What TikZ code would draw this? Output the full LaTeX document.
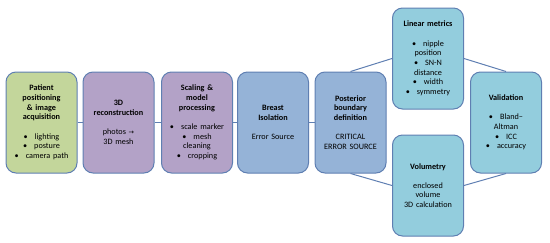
\documentclass[tikz,border=0pt]{standalone}
\usepackage{fontspec}
\setmainfont{Carlito}
\newfontfamily\arrowfont{DejaVu Sans}
\definecolor{boxline}{HTML}{5F7FB2}
\definecolor{cgreen}{HTML}{C3D69B}
\definecolor{cpurple}{HTML}{B3A2C7}
\definecolor{cblue}{HTML}{95B3D7}
\definecolor{ccyan}{HTML}{93CDDD}
\begin{document}
\begin{tikzpicture}[x=1pt,y=-1pt]
\tikzset{
  box/.style={draw=boxline, line width=1pt, rounded corners=10pt,
    minimum width=71pt, minimum height=101pt, text width=68pt,
    align=center, inner sep=1pt, font=\fontsize{8.2}{9.7}\selectfont},
  conn/.style={draw=boxline, line width=1pt}
}
\newcommand{\bul}{\textbullet\hspace{7pt}}
\useasboundingbox (0,0) rectangle (550,242);
\node[box, fill=cgreen] (b1) at (41.5,122.5)
  {\textbf{Patient}\\\textbf{positioning}\\\textbf{\& image}\\\textbf{acquisition}\\[9.5pt]
   \bul lighting\\\bul posture\\\bul camera path};
\node[box, fill=cpurple] (b2) at (118.5,122.5)
  {\textbf{3D}\\\textbf{reconstruction}\\[9.5pt]photos {\arrowfont\fontsize{6.5}{9.7}\selectfont →}\\3D mesh};
\node[box, fill=cpurple] (b3) at (197,122.5)
  {\textbf{Scaling \&}\\\textbf{model}\\\textbf{processing}\\[9.5pt]
   \bul scale marker\\\bul mesh\\cleaning\\\bul cropping};
\node[box, fill=cblue] (b4) at (273,122.5)
  {\textbf{Breast}\\\textbf{Isolation}\\[9.5pt]Error Source};
\node[box, fill=cblue] (b5) at (350.5,122.5)
  {\textbf{Posterior}\\\textbf{boundary}\\\textbf{definition}\\[9.5pt]CRITICAL\\ERROR SOURCE};
\node[box, fill=ccyan] (lin) at (428,58.5)
  {\textbf{Linear metrics}\\[9.5pt]\bul nipple\\position\\\bul SN-N\\distance\\\bul width\\\bul symmetry};
\node[box, fill=ccyan] (vol) at (428,185.5)
  {\textbf{Volumetry}\\[9.5pt]enclosed\\volume\\3D calculation};
\node[box, fill=ccyan] (val) at (506,122.5)
  {\textbf{Validation}\\[9.5pt]\bul Bland--\\Altman\\\bul ICC\\\bul accuracy};
\draw[conn] (b1) -- (b2);
\draw[conn] (b2) -- (b3);
\draw[conn] (b3) -- (b4);
\draw[conn] (b4) -- (b5);
\draw[conn] (b5.north) -- (lin.west);
\draw[conn] (b5.south) -- (vol.west);
\draw[conn] (lin.east) -- (val.north);
\draw[conn] (vol.east) -- (val.south);
\end{tikzpicture}
\end{document}
